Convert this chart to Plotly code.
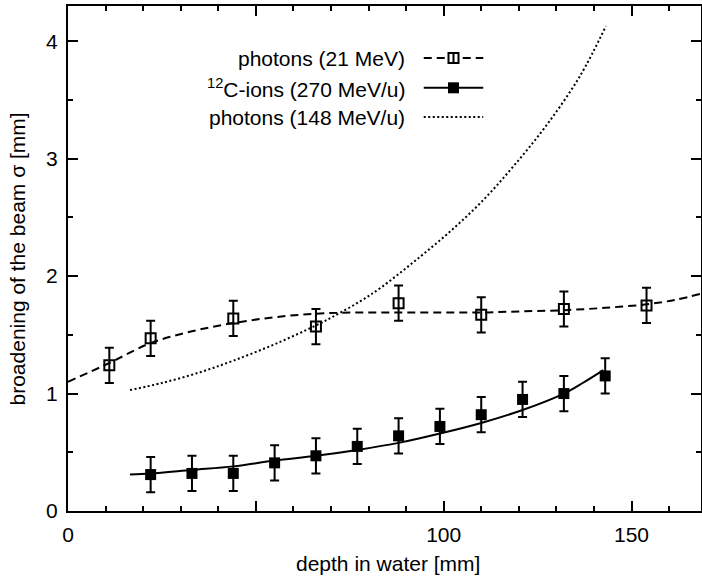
import plotly.graph_objects as go

# ---- data ----
ph21_x = [11, 22, 44, 66, 88, 110, 132, 154]
ph21_y = [1.24, 1.47, 1.64, 1.57, 1.77, 1.67, 1.72, 1.75]
ph21_err = [0.15, 0.15, 0.15, 0.15, 0.15, 0.15, 0.15, 0.15]

c12_x = [22, 33, 44, 55, 66, 77, 88, 99, 110, 121, 132, 143]
c12_y = [0.31, 0.32, 0.32, 0.41, 0.47, 0.55, 0.64, 0.72, 0.82, 0.95, 1.00, 1.15]
c12_err = [0.15] * 12

fit21_x = [0, 11, 22, 33, 44, 55, 66, 77, 88, 99, 110, 121, 132, 143, 154, 162, 168.5]
fit21_y = [1.10, 1.26, 1.43, 1.53, 1.60, 1.65, 1.68, 1.69, 1.69, 1.69, 1.69, 1.70, 1.71, 1.73, 1.76, 1.80, 1.85]

fitc12_x = [16.5, 22, 33, 44, 55, 66, 77, 88, 99, 110, 121, 132, 137, 142.5]
fitc12_y = [0.31, 0.32, 0.35, 0.38, 0.43, 0.47, 0.52, 0.58, 0.66, 0.75, 0.86, 1.00, 1.09, 1.20]

ph148_x = [16.5, 25, 35, 44, 55, 66, 72, 78, 83.2, 92, 101, 110, 118.7, 127.5, 136.4, 143.2]
ph148_y = [1.03, 1.09, 1.18, 1.28, 1.42, 1.58, 1.68, 1.79, 1.90, 2.12, 2.36, 2.63, 2.94, 3.29, 3.71, 4.13]

legend_labels = ["photons (21 MeV)", "<sup>12</sup>C-ions (270 MeV/u)", "photons (148 MeV/u)"]
x_title = "depth in water [mm]"
y_title = "broadening of the beam σ [mm]"

x_tickvals = [0, 50, 100, 150]
x_ticktext = ["0", " ", "100", "150"]
y_tickvals = [0, 1, 2, 3, 4]

FONT = "Liberation Sans, Arial, Helvetica, sans-serif"
BLACK = "black"

fig = go.Figure()

fig.add_trace(go.Scatter(x=fit21_x, y=fit21_y, mode="lines",
                         line=dict(color=BLACK, width=2, dash="8px,5px", shape="spline"),
                         showlegend=False))
fig.add_trace(go.Scatter(x=fitc12_x, y=fitc12_y, mode="lines",
                         line=dict(color=BLACK, width=2, shape="spline"),
                         showlegend=False))
fig.add_trace(go.Scatter(x=ph148_x, y=ph148_y, mode="lines",
                         line=dict(color=BLACK, width=2, dash="2px,2.5px", shape="spline"),
                         showlegend=False))
fig.add_trace(go.Scatter(x=ph21_x, y=ph21_y, mode="markers",
                         marker=dict(symbol="square-open", size=10, color=BLACK, line=dict(width=2, color=BLACK)),
                         error_y=dict(type="data", array=ph21_err, visible=True, thickness=2, width=4.5, color=BLACK),
                         showlegend=False))
fig.add_trace(go.Scatter(x=c12_x, y=c12_y, mode="markers",
                         marker=dict(symbol="square", size=11, color=BLACK),
                         error_y=dict(type="data", array=c12_err, visible=True, thickness=2, width=4.5, color=BLACK),
                         showlegend=False))

# ---- legend drawn gnuplot-style (text left, sample right) ----
row_y = [0.897, 0.838, 0.780]
text_x = 0.535
samp_x0, samp_x1, samp_xm = 0.562, 0.656, 0.609
dashes = ["8px,5px", "solid", "2px,2.5px"]
annotations = []
shapes = []
for i, lab in enumerate(legend_labels):
    annotations.append(dict(x=text_x, y=row_y[i], xref="paper", yref="paper", text=lab,
                            showarrow=False, xanchor="right", yanchor="middle",
                            font=dict(family=FONT, size=21, color=BLACK)))
    shapes.append(dict(type="line", xref="paper", yref="paper", x0=samp_x0, x1=samp_x1,
                       y0=row_y[i], y1=row_y[i], line=dict(color=BLACK, width=2, dash=dashes[i])))
shapes.append(dict(type="rect", xref="paper", yref="paper", xsizemode="pixel", ysizemode="pixel",
                   xanchor=samp_xm, yanchor=row_y[0], x0=-5, x1=5, y0=-5, y1=5,
                   line=dict(color=BLACK, width=2), fillcolor="white"))
shapes.append(dict(type="line", xref="paper", yref="paper", xsizemode="pixel", ysizemode="pixel",
                   xanchor=samp_xm, yanchor=row_y[0], x0=0, x1=0, y0=-5, y1=5,
                   line=dict(color=BLACK, width=2)))
shapes.append(dict(type="rect", xref="paper", yref="paper", xsizemode="pixel", ysizemode="pixel",
                   xanchor=samp_xm, yanchor=row_y[1], x0=-5.5, x1=5.5, y0=-5.5, y1=5.5,
                   line=dict(color=BLACK, width=0), fillcolor=BLACK))

# axis titles as annotations (fixed margins)
annotations.append(dict(x=0.505, y=-0.103, xref="paper", yref="paper", text=x_title,
                        showarrow=False, xanchor="center", yanchor="middle",
                        font=dict(family=FONT, size=21, color=BLACK)))
annotations.append(dict(x=-0.079, y=0.5, xref="paper", yref="paper", text=y_title,
                        showarrow=False, xanchor="center", yanchor="middle", textangle=-90,
                        font=dict(family=FONT, size=21, color=BLACK)))

fig.update_layout(
    width=702, height=578,
    margin=dict(l=68, r=1, t=6, b=67),
    paper_bgcolor="white", plot_bgcolor="white",
    font=dict(family=FONT, size=21, color=BLACK),
    annotations=annotations, shapes=shapes,
    showlegend=False,
)
fig.update_xaxes(range=[0, 168.5], showgrid=False, zeroline=False, automargin=False,
                 showline=True, linecolor=BLACK, linewidth=2, mirror="allticks",
                 ticks="inside", ticklen=10, tickwidth=2, tickcolor=BLACK,
                 tickmode="array", tickvals=x_tickvals, ticktext=x_ticktext,
                 ticklabelstandoff=4,
                 minor=dict(ticks="inside", ticklen=5, tickwidth=2, tickcolor=BLACK, dtick=10, tick0=0))
fig.update_yaxes(range=[0, 4.3], showgrid=False, zeroline=False, automargin=False,
                 showline=True, linecolor=BLACK, linewidth=2, mirror="allticks",
                 ticks="inside", ticklen=10, tickwidth=2, tickcolor=BLACK,
                 tickmode="array", tickvals=y_tickvals,
                 ticklabelstandoff=4,
                 minor=dict(ticks="inside", ticklen=5, tickwidth=2, tickcolor=BLACK, dtick=0.5, tick0=0))

fig.write_html("out.html", config={"displayModeBar": False},
               post_script="document.body.style.margin='0px';document.body.style.padding='0px';")
